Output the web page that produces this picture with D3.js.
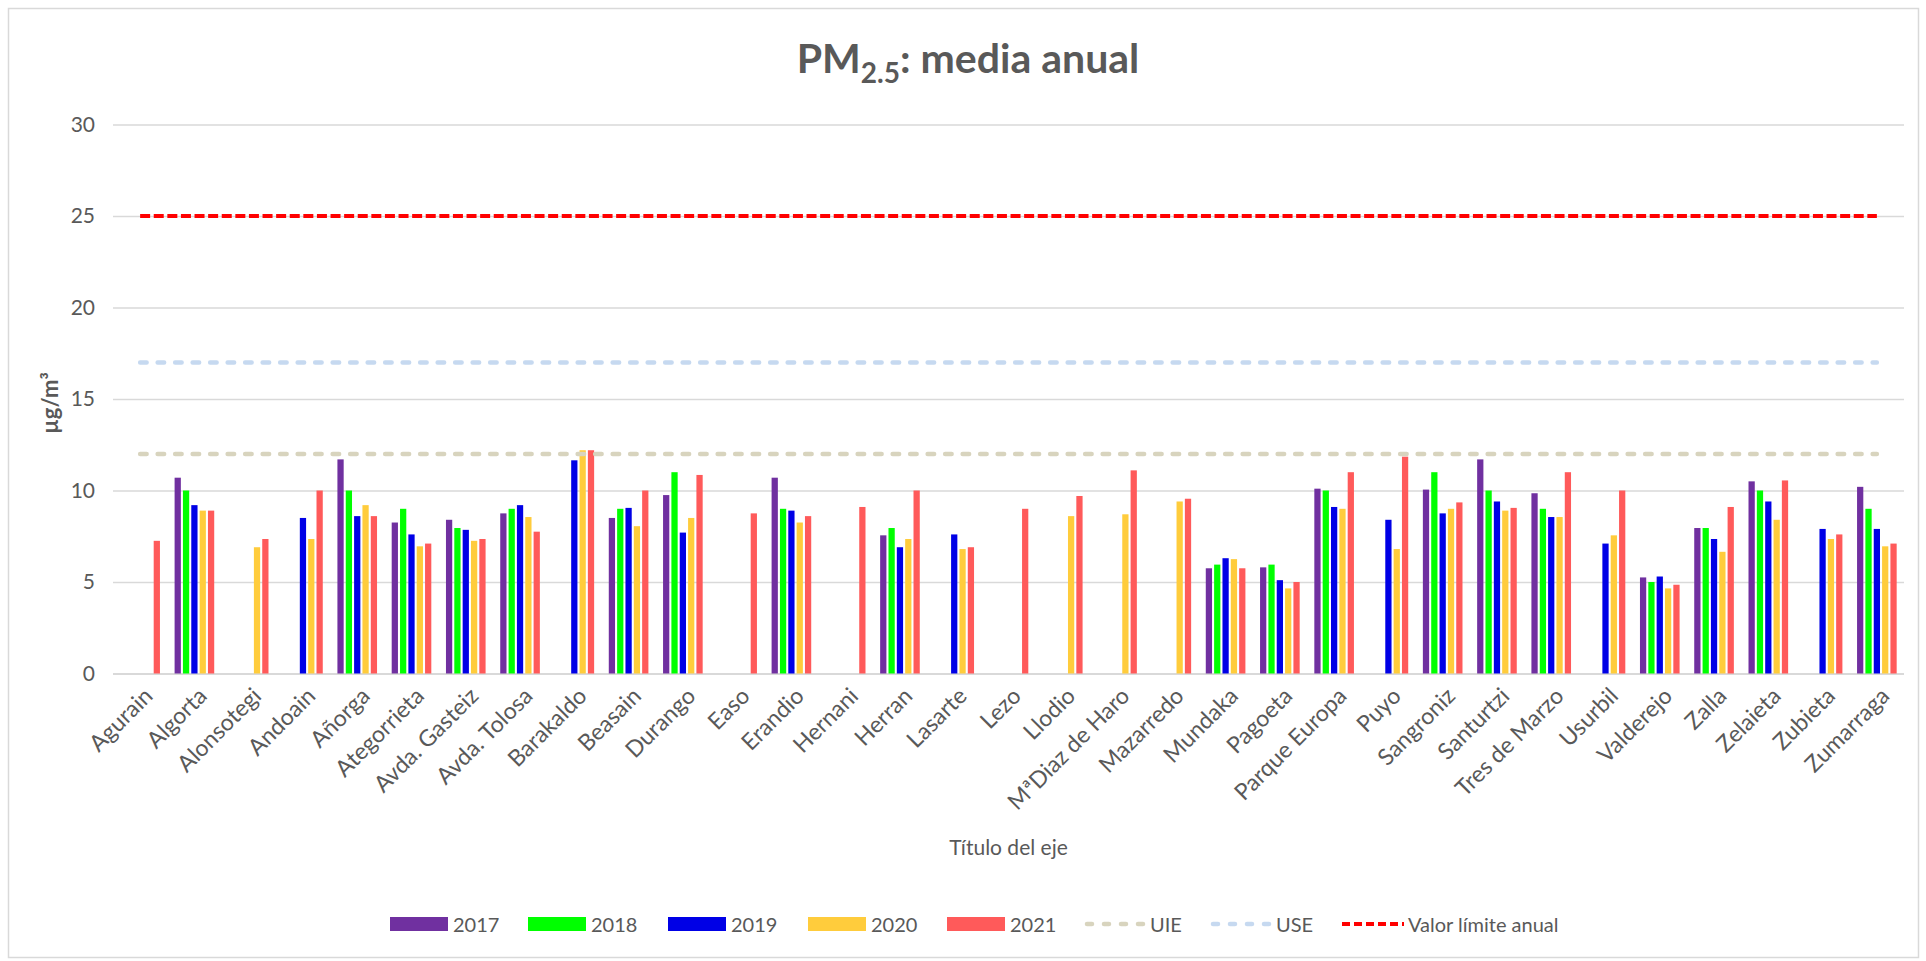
<!DOCTYPE html>
<html lang="es">
<head>
<meta charset="utf-8">
<title>PM2.5: media anual</title>
<script src="https://cdn.jsdelivr.net/npm/d3@7"></script>
<style>
  html, body { margin: 0; padding: 0; background: #ffffff; }
  svg { display: block; font-family: Lato, "Open Sans", "Noto Sans", sans-serif; }
</style>
</head>
<body>
<svg id="chart" width="1926" height="961"></svg>
<script>
// Estaciones de medida
const stations = ["Agurain","Algorta","Alonsotegi","Andoain","Añorga","Ategorrieta","Avda. Gasteiz","Avda. Tolosa","Barakaldo","Beasain","Durango","Easo","Erandio","Hernani","Herran","Lasarte","Lezo","Llodio","MªDiaz de Haro","Mazarredo","Mundaka","Pagoeta","Parque Europa","Puyo","Sangroniz","Santurtzi","Tres de Marzo","Usurbil","Valderejo","Zalla","Zelaieta","Zubieta","Zumarraga"];

// Media anual de PM2.5 (µg/m³) por año; null = sin dato
const years = ["2017","2018","2019","2020","2021"];
const v2017 = [null,10.7,null,null,11.7,8.25,8.4,8.75,null,8.5,9.75,null,10.7,null,7.55,null,null,null,null,null,5.75,5.8,10.1,null,10.05,11.7,9.85,null,5.25,7.95,10.5,null,10.2];
const v2018 = [null,10,null,null,10,9,7.95,9,null,9,11,null,9,null,7.95,null,null,null,null,null,5.95,5.95,10,null,11,10,9,null,5,7.95,10,null,9];
const v2019 = [null,9.2,null,8.5,8.6,7.6,7.85,9.2,11.65,9.05,7.7,null,8.9,null,6.9,7.6,null,null,null,null,6.3,5.1,9.1,8.4,8.75,9.4,8.55,7.1,5.3,7.35,9.4,7.9,7.9];
const v2020 = [null,8.9,6.9,7.35,9.2,6.95,7.25,8.55,12.2,8.05,8.5,null,8.25,null,7.35,6.8,null,8.6,8.7,9.4,6.25,4.65,9,6.8,9,8.9,8.55,7.55,4.65,6.65,8.4,7.35,6.95];
const v2021 = [7.25,8.9,7.35,10,8.6,7.1,7.35,7.75,12.2,10,10.85,8.75,8.6,9.1,10,6.9,9,9.7,11.1,9.55,5.75,5,11,11.85,9.35,9.05,11,10,4.85,9.1,10.55,7.6,7.1];
const seriesValues = [v2017, v2018, v2019, v2020, v2021];

// Umbrales de referencia
const uieValue = 12;
const useValue = 17;
const limitValue = 25;

const yTicks = [0, 5, 10, 15, 20, 25, 30];

const barColors = ["#7030A0", "#00FF00", "#0000E6", "#FFCC3C", "#FF5A5A"];
const textGrey = "#595959";
const fontStack = 'Lato, "Open Sans", "Noto Sans", sans-serif';

const svg = d3.select("#chart");

// Marco del gráfico
svg.append("rect")
  .attr("x", 8.5).attr("y", 8.5)
  .attr("width", 1910).attr("height", 949)
  .attr("fill", "#ffffff")
  .attr("stroke", "#d9d9d9").attr("stroke-width", 1.5);

const plot = { left: 113, right: 1904, top: 124.5, bottom: 673.5 };

const x0 = d3.scaleBand()
  .domain(stations)
  .range([plot.left, plot.right])
  .paddingInner(0.27)
  .paddingOuter(0.135);

const x1 = d3.scaleBand()
  .domain(years)
  .range([0, x0.bandwidth()])
  .paddingInner(0.25);

const y = d3.scaleLinear().domain([0, 30]).range([plot.bottom, plot.top]);

// Líneas de cuadrícula y etiquetas del eje Y
const yAxis = d3.axisLeft(y).tickValues(yTicks).tickSize(-(plot.right - plot.left)).tickPadding(18);
const yG = svg.append("g")
  .attr("transform", `translate(${plot.left},0)`)
  .call(yAxis)
  .attr("font-family", fontStack)
  .attr("font-size", 21);
yG.select(".domain").remove();
yG.selectAll(".tick line")
  .attr("stroke", "#d9d9d9")
  .attr("stroke-width", d => d === 0 ? 2.2 : 1.4);
yG.selectAll(".tick text")
  .attr("fill", textGrey);

// Barras agrupadas por estación
const groups = svg.append("g").selectAll("g")
  .data(stations)
  .join("g")
  .attr("transform", d => `translate(${x0(d)},0)`);

groups.selectAll("rect")
  .data((d, i) => years.map((yr, k) => ({ year: yr, k, value: seriesValues[k][i] })).filter(e => e.value !== null))
  .join("rect")
  .attr("x", d => x1(d.year))
  .attr("width", x1.bandwidth())
  .attr("y", d => y(d.value))
  .attr("height", d => y(0) - y(d.value))
  .attr("fill", d => barColors[d.k]);

// Etiquetas del eje X (rotadas)
const xAxis = d3.axisBottom(x0).tickSize(0).tickPadding(0);
const xG = svg.append("g")
  .attr("transform", `translate(0,${plot.bottom})`)
  .call(xAxis)
  .attr("font-family", fontStack)
  .attr("font-size", 23);
xG.select(".domain").remove();
xG.selectAll(".tick text")
  .attr("fill", textGrey)
  .attr("text-anchor", "end")
  .attr("dy", 0)
  .attr("transform", "translate(14,24) rotate(-45)");

// Líneas de referencia (de centro a centro de las categorías)
const lineGen = d3.line()
  .x(d => x0(d.station) + x0.bandwidth() / 2)
  .y(d => y(d.value));

const refLines = [
  { name: "UIE", value: uieValue, color: "#D8D4BE", dash: "6.5 11", cap: "round", width: 4.5 },
  { name: "USE", value: useValue, color: "#C6D9F0", dash: "6.5 11", cap: "round", width: 4.5 },
  { name: "Valor límite anual", value: limitValue, color: "#FF0000", dash: "10 3.6", cap: "butt", width: 4 }
];

refLines.forEach(r => {
  svg.append("path")
    .datum(stations.map(s => ({ station: s, value: r.value })))
    .attr("d", lineGen)
    .attr("fill", "none")
    .attr("stroke", r.color)
    .attr("stroke-width", r.width)
    .attr("stroke-dasharray", r.dash)
    .attr("stroke-linecap", r.cap);
});

// Título
const title = svg.append("text")
  .attr("x", 968).attr("y", 73)
  .attr("text-anchor", "middle")
  .attr("fill", textGrey)
  .attr("font-size", 41)
  .attr("font-weight", "bold");
title.append("tspan").text("PM");
title.append("tspan").attr("font-size", 28).attr("dy", 10).text("2.5");
title.append("tspan").attr("dy", -10).text(": media anual");

// Título del eje Y
svg.append("text")
  .attr("transform", `translate(52,${(plot.top + plot.bottom) / 2 + 4}) rotate(-90)`)
  .attr("text-anchor", "middle")
  .attr("dominant-baseline", "middle")
  .attr("fill", textGrey)
  .attr("font-size", 22)
  .attr("font-weight", "bold")
  .text("µg/m³");

// Título del eje X
svg.append("text")
  .attr("x", (plot.left + plot.right) / 2)
  .attr("y", 855)
  .attr("text-anchor", "middle")
  .attr("fill", textGrey)
  .attr("font-size", 21)
  .text("Título del eje");

// Leyenda
const legendItems = [
  ...years.map((yr, k) => ({ label: yr, type: "bar", color: barColors[k] })),
  ...refLines.map(r => ({ label: r.name, type: "line", ref: r }))
];
const legendX = [390, 528, 668, 808, 947, 1084, 1210, 1342];
const legendY = 924;
const legend = svg.append("g");
legendItems.forEach((it, i) => {
  const g = legend.append("g").attr("transform", `translate(${legendX[i]},${legendY})`);
  if (it.type === "bar") {
    g.append("rect").attr("x", 0).attr("y", -7).attr("width", 58).attr("height", 14).attr("fill", it.color);
    g.append("text").attr("x", 63).attr("y", 0).attr("dominant-baseline", "central")
      .attr("fill", textGrey).attr("font-size", 20).text(it.label);
  } else {
    const r = it.ref;
    g.append("line").attr("x1", r.cap === "round" ? 3 : 0).attr("x2", 62).attr("y1", 0).attr("y2", 0)
      .attr("stroke", r.color).attr("stroke-width", r.width)
      .attr("stroke-dasharray", r.cap === "round" ? "5 12" : "8 4")
      .attr("stroke-linecap", r.cap);
    g.append("text").attr("x", 66).attr("y", 0).attr("dominant-baseline", "central")
      .attr("fill", textGrey).attr("font-size", 20).text(it.label);
  }
});
</script>
</body>
</html>
